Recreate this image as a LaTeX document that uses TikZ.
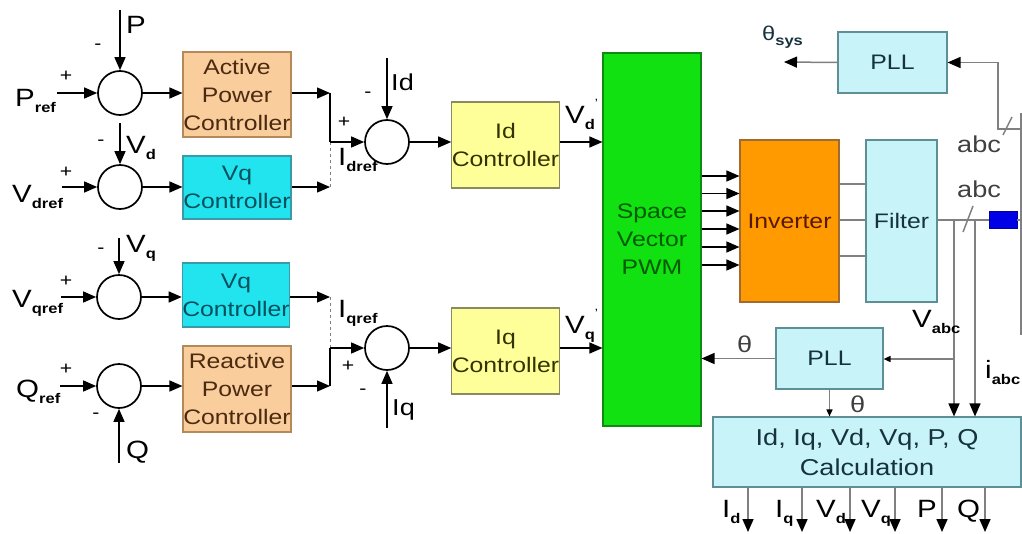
\documentclass[tikz,border=0pt]{standalone}
\usepackage{fontspec}
\setmainfont{Liberation Sans}[FakeStretch=1.18]
\usetikzlibrary{arrows.meta}
\definecolor{apcF}{HTML}{FACD9C}
\definecolor{apcD}{HTML}{B48A5A}
\definecolor{apcT}{HTML}{4A2A10}
\definecolor{vqF}{HTML}{22E4EE}
\definecolor{vqD}{HTML}{3A9AA8}
\definecolor{vqT}{HTML}{00505E}
\definecolor{idF}{HTML}{FFFF99}
\definecolor{idD}{HTML}{8A8A60}
\definecolor{idT}{HTML}{333300}
\definecolor{pwF}{HTML}{11E011}
\definecolor{pwD}{HTML}{108A10}
\definecolor{pwT}{HTML}{005A00}
\definecolor{invF}{HTML}{FF9A00}
\definecolor{invD}{HTML}{A06A30}
\definecolor{invT}{HTML}{5A1800}
\definecolor{ltF}{HTML}{C8F3F8}
\definecolor{ltD}{HTML}{5E8E96}
\definecolor{ltT}{HTML}{16323C}
\definecolor{ln}{HTML}{808080}
\definecolor{blu}{HTML}{0000E6}
\newcommand\sbs[1]{\raisebox{-0.25em}{\fontsize{14}{14}\selectfont\bfseries #1}}
\newcommand\spm{\raisebox{0.62em}{\fontsize{12}{12}\selectfont '}}
\begin{document}
\begin{tikzpicture}[x=1pt,y=-1pt,
 every node/.style={inner sep=0pt},
 arr/.style={-{Triangle[length=13pt,width=11pt]},line width=1.3pt},
 garr/.style={-{Triangle[length=13pt,width=11pt,color=black]},line width=1.5pt,draw=ln},
 sarr/.style={-{Triangle[length=7pt,width=6pt,color=black]},line width=1.5pt,draw=ln},
 gline/.style={line width=1.5pt,draw=ln},
 dline/.style={dashed,line width=1pt,draw=ln},
 sumc/.style={circle,draw,line width=1.7pt,minimum size=44pt},
 blk/.style={draw,line width=1.1pt,align=center,font=\fontsize{21}{28}\selectfont},
 lbl/.style={font=\fontsize{25}{25}\selectfont},
 slbl/.style={font=\fontsize{23}{23}\selectfont},
 sgn/.style={font=\fontsize{18}{18}\selectfont},
]
\useasboundingbox (0,0) rectangle (1022,533);

% summing junctions
\node[sumc] (s1) at (120,93) {};
\node[sumc] (s2) at (120,187) {};
\node[sumc] (s3) at (119,297) {};
\node[sumc] (s4) at (119,386) {};
\node[sumc] (s5) at (387,142) {};
\node[sumc] (s6) at (387,348) {};

% blocks
\node[blk,fill=apcF,draw=apcD,text=apcT,minimum width=108pt,minimum height=85pt] (apc) at (237,94.5) {Active\\Power\\Controller};
\node[blk,fill=vqF,draw=vqD,text=vqT,minimum width=108pt,minimum height=63pt] (vq1) at (237,187.5) {Vq\\Controller};
\node[blk,fill=vqF,draw=vqD,text=vqT,minimum width=106pt,minimum height=64pt] (vq2) at (236,295) {Vq\\Controller};
\node[blk,fill=apcF,draw=apcD,text=apcT,minimum width=108pt,minimum height=86pt] (rpc) at (237,389) {Reactive\\Power\\Controller};
\node[blk,fill=idF,draw=idD,text=idT,minimum width=107pt,minimum height=86pt] (idc) at (505.5,145) {Id\\Controller};
\node[blk,fill=idF,draw=idD,text=idT,minimum width=107pt,minimum height=86pt] (iqc) at (505.5,351) {Iq\\Controller};
\node[blk,fill=pwF,draw=pwD,text=pwT,minimum width=98pt,minimum height=373pt] (pwm) at (652,239.5) {Space\\Vector\\PWM};
\node[blk,fill=invF,draw=invD,text=invT,minimum width=99pt,minimum height=162pt] (inv) at (789.5,221) {Inverter};
\node[blk,fill=ltF,draw=ltD,text=ltT,minimum width=71pt,minimum height=162pt] (filt) at (901.5,221) {Filter};
\node[blk,fill=ltF,draw=ltD,text=ltT,minimum width=109pt,minimum height=61pt] (pll1) at (892.5,62.5) {PLL};
\node[blk,fill=ltF,draw=ltD,text=ltT,minimum width=107pt,minimum height=61pt] (pll2) at (829.5,358.5) {PLL};
\node[blk,fill=ltF,draw=ltD,text=ltT,minimum width=308pt,minimum height=70pt,font=\fontsize{23}{30}\selectfont] (calc) at (867,452) {Id, Iq, Vd, Vq, P, Q\\Calculation};
\node[draw=blu!70!black,fill=blu,minimum width=28pt,minimum height=17pt] (blue) at (1003,220) {};

% left inputs
\coordinate (pin) at (57,93);
\coordinate (ptop) at (120,10);
\coordinate (vdin) at (62,187);
\coordinate (vdtop) at (120,123);
\coordinate (vqin) at (61,297);
\coordinate (vqtop) at (119,238);
\coordinate (qin) at (60,386);
\coordinate (qbot) at (119,463);
\draw[arr] (pin) -- (s1.west);
\draw[arr] (ptop) -- (s1.north);
\draw[arr] (vdin) -- (s2.west);
\draw[arr] (vdtop) -- (s2.north);
\draw[arr] (vqin) -- (s3.west);
\draw[arr] (vqtop) -- (s3.north);
\draw[arr] (qin) -- (s4.west);
\draw[arr] (qbot) -- (s4.south);

\draw[arr] (s1.east) -- (s1.east -| apc.west);
\draw[arr] (s2.east) -- (s2.east -| vq1.west);
\draw[arr] (s3.east) -- (s3.east -| vq2.west);
\draw[arr] (s4.east) -- (s4.east -| rpc.west);

% selectors
\coordinate (j1) at (330,93);
\coordinate (j1b) at (330,142);
\coordinate (j2) at (330,187);
\coordinate (j3) at (330,297);
\coordinate (j3b) at (330,348);
\coordinate (j4) at (330,386);
\draw[arr] (apc.east |- j1) -- (j1);
\draw[arr] (vq1.east |- j2) -- (j2);
\draw[arr] (vq2.east |- j3) -- (j3);
\draw[arr] (rpc.east |- j4) -- (j4);
\draw[line width=1.3pt] (j1) -- (j1b);
\draw[dline] (j1b) -- (j2);
\draw[arr] (j1b) -- (s5.west);
\draw[dline] (j3) -- (j3b);
\draw[line width=1.3pt] (j3b) -- (j4);
\draw[arr] (j3b) -- (s6.west);

\coordinate (idtop) at (387,58);
\coordinate (iqbot) at (387,428);
\draw[arr] (idtop) -- (s5.north);
\draw[arr] (iqbot) -- (s6.south);
\draw[arr] (s5.east) -- (s5.east -| idc.west);
\draw[arr] (s6.east) -- (s6.east -| iqc.west);
\draw[arr] (s5 -| idc.east) -- (s5 -| pwm.west);
\draw[arr] (s6 -| iqc.east) -- (s6 -| pwm.west);

% PWM to inverter
\foreach \yy in {176,193.5,211,229,247,265}
  \draw[arr,line width=1.2pt] (pwm.east |- 0,\yy) -- (inv.west |- 0,\yy);
% inverter to filter
\foreach \yy in {184,220,256}
  \draw[gline] (inv.east |- 0,\yy) -- (filt.west |- 0,\yy);

% right side
\coordinate (rend) at (1022,220);
\coordinate (tv) at (954,220);
\coordinate (ti) at (975,220);
\coordinate (tp) at (954,359);
\draw[gline] (filt.east |- blue) -- (blue.west);
\draw[gline] (blue.east) -- (rend);
\draw[garr] (tv) -- (tv |- calc.north);
\draw[garr] (ti) -- (ti |- calc.north);
\draw[sarr] (tp) -- (tp -| pll2.east);
\draw[garr] (pll2.west) -- (pll2.west -| pwm.east);
\draw[sarr] (pll2.south) -- (pll2.south |- calc.north);

\coordinate (r1) at (1021,113);
\coordinate (r2) at (1021,335);
\coordinate (c1) at (1021,129);
\coordinate (c2) at (998,129);
\coordinate (ts) at (784,62);
\draw[gline] (r1) -- (r2);
\draw[garr] (c1) -- (c2) -- (c2 |- pll1.east) -- (pll1.east);
\draw[garr] (pll1.west) -- (ts);
\draw[gline] (1003,135) -- (1012,117);
\draw[gline] (963,232) -- (973,206);

% outputs
\foreach \xx in {748,802,850,895,942,985}
  \draw[garr] (calc.south -| \xx,0) -- (\xx,532);

% labels left
\node[lbl,anchor=base west] (lpref) at (15,106) {P\sbs{ref}};
\node[sgn] (pp1) at (66,76) {+};
\node[lbl,anchor=base west] (lp) at (126,33) {P};
\node[sgn] (pm1) at (98,47) {-};
\node[lbl,anchor=base west] (lvdref) at (12,202) {V\sbs{dref}};
\node[sgn] (pp2) at (66,172) {+};
\node[lbl,anchor=base west] (lvd) at (126,153) {V\sbs{d}};
\node[sgn] (pm2) at (101,143) {-};
\node[lbl,anchor=base west] (lvqref) at (12,307) {V\sbs{qref}};
\node[sgn] (pp3) at (66,281) {+};
\node[lbl,anchor=base west] (lvq) at (126,252) {V\sbs{q}};
\node[sgn] (pm3) at (101,251) {-};
\node[lbl,anchor=base west] (lqref) at (16,397) {Q\sbs{ref}};
\node[sgn] (pp4) at (66,369) {+};
\node[lbl,anchor=base west] (lq) at (126,458) {Q};
\node[sgn] (pm4) at (96,416) {-};

\node[slbl,anchor=base west] (lid) at (391,90) {Id};
\node[sgn] (pm5) at (368,95) {-};
\node[sgn] (pp5) at (344,122) {+};
\node[lbl,anchor=base west] (lidref) at (338,165) {I\sbs{dref}};
\node[lbl,anchor=base west] (liqref) at (338,317) {I\sbs{qref}};
\node[sgn] (pp6) at (348,366) {+};
\node[slbl,anchor=base west] (liq) at (392,415) {Iq};
\node[sgn] (pm6) at (363,392) {-};
\node[lbl,anchor=base west] (lvds) at (565,123) {V\sbs{d}\spm};
\node[lbl,anchor=base west] (lvqs) at (565,333) {V\sbs{q}\spm};

% labels right
\node[lbl,anchor=base west,text=ltT] (lts) at (762,40) {\fontsize{20}{20}\selectfont θ\sbs{sys}};
\node[slbl,anchor=base west,text=black!75] (labc1) at (957,152) {abc};
\node[slbl,anchor=base west,text=black!75] (labc2) at (957,197) {abc};
\node[lbl,anchor=base west] (lvabc) at (912,327) {V\sbs{abc}};
\node[lbl,anchor=base west] (liabc) at (985,378) {i\sbs{abc}};
\node[slbl,anchor=base west,text=black!75] (lth1) at (737,352) {θ};
\node[slbl,anchor=base west,text=black!75] (lth2) at (850,412) {θ};

\node[lbl,anchor=base west] (lo1) at (722,517) {I\sbs{d}};
\node[lbl,anchor=base west] (lo2) at (775,517) {I\sbs{q}};
\node[lbl,anchor=base west] (lo3) at (816,517) {V\sbs{d}};
\node[lbl,anchor=base west] (lo4) at (861,517) {V\sbs{q}};
\node[lbl,anchor=base west] (lo5) at (917,517) {P};
\node[lbl,anchor=base west] (lo6) at (957,517) {Q};
\end{tikzpicture}
\end{document}
